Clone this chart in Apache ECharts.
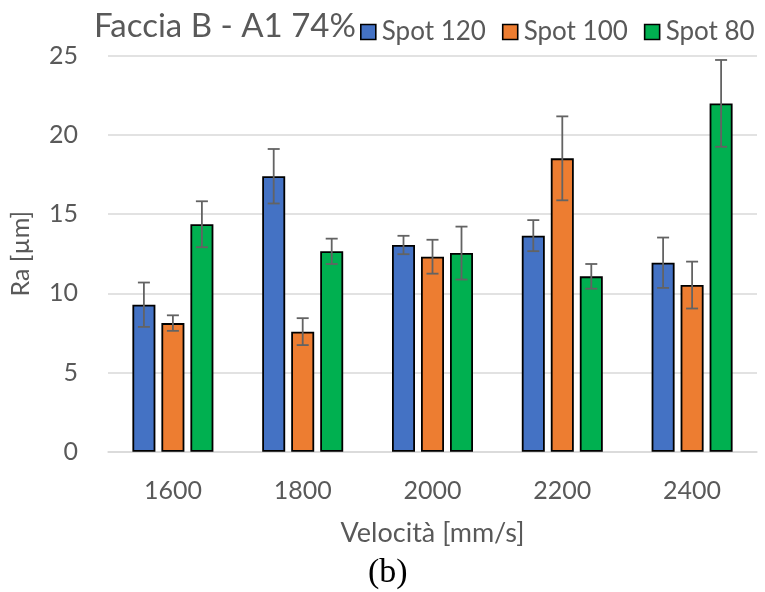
<!DOCTYPE html>
<html>
<head>
<meta charset="utf-8">
<script src="https://cdn.jsdelivr.net/npm/echarts@6/dist/echarts.min.js"></script>
<style>
html,body{margin:0;padding:0;background:#fff;}
#chart{width:765px;height:592px;}
</style>
</head>
<body>
<div id="chart"></div>
<script>
const categories = ['1600', '1800', '2000', '2200', '2400'];
const seriesNames = ['Spot 120', 'Spot 100', 'Spot 80'];
const spot120 = [9.28, 17.39, 13.05, 13.64, 11.93];
const spot100 = [8.12, 7.58, 12.31, 18.52, 10.52];
const spot80 = [14.36, 12.65, 12.54, 11.07, 21.99];
const err120 = [1.40, 1.72, 0.58, 0.98, 1.59];
const err100 = [0.49, 0.85, 1.07, 2.65, 1.48];
const err80 = [1.45, 0.80, 1.67, 0.78, 2.74];
const yTicks = [0, 5, 10, 15, 20, 25];

const colors = ['#4472C4', '#ED7D31', '#00B050'];
const values = [spot120, spot100, spot80];
const errors = [err120, err100, err80];
const FONT = 'Lato';
const TXT = '#595959';
const BAR_W = 23;
const BAR_GAP = 6;

const chart = echarts.init(document.getElementById('chart'), null, {renderer: 'canvas'});

const series = [];
values.forEach((vals, i) => {
  series.push({
    name: seriesNames[i],
    type: 'bar',
    data: vals,
    barWidth: BAR_W,
    barGap: (BAR_GAP / BAR_W * 100) + '%',
    itemStyle: {color: colors[i], borderColor: '#000', borderWidth: 1.8},
    emphasis: {disabled: true},
    z: 2
  });
});
values.forEach((vals, i) => {
  const errData = vals.map((v, k) => [k, v - errors[i][k], v + errors[i][k]]);
  series.push({
    type: 'custom',
    name: 'err' + i,
    data: errData,
    z: 5,
    silent: true,
    encode: {x: 0, y: [1, 2]},
    renderItem: function (params, api) {
      const c = api.value(0);
      const lo = api.coord([c, api.value(1)]);
      const hi = api.coord([c, api.value(2)]);
      const off = (i - 1) * (BAR_W + BAR_GAP);
      const x = lo[0] + off;
      const cap = 6;
      const st = {stroke: '#636363', lineWidth: 1.8};
      return {
        type: 'group',
        children: [
          {type: 'line', shape: {x1: x, y1: lo[1], x2: x, y2: hi[1]}, style: st},
          {type: 'line', shape: {x1: x - cap, y1: lo[1], x2: x + cap, y2: lo[1]}, style: st},
          {type: 'line', shape: {x1: x - cap, y1: hi[1], x2: x + cap, y2: hi[1]}, style: st}
        ]
      };
    }
  });
});

chart.setOption({
  animation: false,
  backgroundColor: '#fff',
  title: {
    text: 'Faccia B - A1 74%',
    left: 89,
    top: 5,
    textStyle: {fontFamily: FONT, fontSize: 33, fontWeight: 'normal', color: TXT}
  },
  legend: {
    data: seriesNames,
    left: 355,
    top: 14,
    itemWidth: 15,
    itemHeight: 15,
    itemGap: 16,
    icon: 'rect',
    itemStyle: {borderColor: '#000', borderWidth: 1.6},
    textStyle: {fontFamily: FONT, fontSize: 26, color: TXT, padding: [0, 0, 0, 1]}
  },
  grid: {left: 107, right: 8, top: 55.7, bottom: 140.3, containLabel: false},
  xAxis: {
    type: 'category',
    data: categories,
    name: 'Velocità [mm/s]',
    nameLocation: 'middle',
    nameGap: 68,
    nameTextStyle: {fontFamily: FONT, fontSize: 27, color: TXT},
    axisLine: {lineStyle: {color: '#D9D9D9', width: 1.5}},
    axisTick: {show: false},
    axisLabel: {fontFamily: FONT, fontSize: 25, color: TXT, margin: 27}
  },
  yAxis: {
    type: 'value',
    min: yTicks[0],
    max: yTicks[yTicks.length - 1],
    interval: yTicks[1] - yTicks[0],
    name: 'Ra [µm]',
    nameLocation: 'middle',
    nameGap: 75,
    nameRotate: 90,
    nameTextStyle: {fontFamily: FONT, fontSize: 25, color: TXT},
    axisLine: {show: false},
    axisTick: {show: false},
    splitLine: {lineStyle: {color: '#D9D9D9', width: 1.5}},
    axisLabel: {fontFamily: FONT, fontSize: 25, color: TXT, margin: 30}
  },
  graphic: [{
    type: 'text',
    left: 368,
    top: 556,
    style: {text: '(b)', font: '34px "Liberation Serif"', fill: '#000'}
  }],
  series: series
});
</script>
</body>
</html>
